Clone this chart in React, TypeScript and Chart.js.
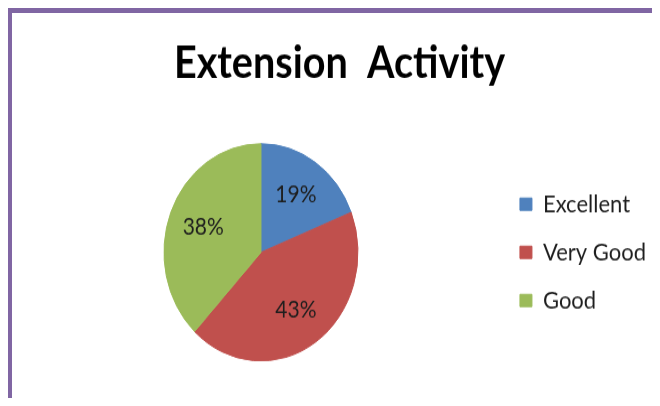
import React, { useEffect, useRef } from "react";
import { Chart, registerables } from "chart.js";

Chart.register(...registerables);

const titleText = "Extension  Activity";
const categories = ["Excellent", "Very Good", "Good"];
const percentages = [19, 43, 38];
const sliceColors = ["#4F81BD", "#C0504D", "#9BBB59"];

const FONT = "Lato, 'Open Sans', 'DejaVu Sans', sans-serif";

const percentLabels = {
  id: "percentLabels",
  afterDatasetsDraw(chart: any) {
    const ctx = chart.ctx;
    const meta = chart.getDatasetMeta(0);
    ctx.save();
    ctx.font = `21px ${FONT}`;
    ctx.fillStyle = "#1e1e1e";
    ctx.textAlign = "center";
    ctx.textBaseline = "middle";
    meta.data.forEach((arc: any, i: number) => {
      const { x, y, startAngle, endAngle, outerRadius } = arc.getProps(
        ["x", "y", "startAngle", "endAngle", "outerRadius"],
        true
      );
      const mid = (startAngle + endAngle) / 2;
      const r = outerRadius * 0.64;
      ctx.fillText(
        `${percentages[i]}%`,
        x + Math.cos(mid) * r,
        y + Math.sin(mid) * r
      );
    });
    ctx.restore();
  },
};

export default function App() {
  const ref = useRef<HTMLCanvasElement>(null);
  useEffect(() => {
    document.body.style.overflow = "hidden";
    document.documentElement.style.overflow = "hidden";
    const chart = new Chart(ref.current!, {
      type: "pie",
      data: {
        labels: categories,
        datasets: [
          {
            data: percentages,
            backgroundColor: sliceColors,
            borderColor: sliceColors,
            borderWidth: 1,
          },
        ],
      },
      options: {
        responsive: false,
        animation: false,
        radius: 97,
        layout: { padding: { top: 0, left: 11, right: 4, bottom: 2 } },
        plugins: {
          title: {
            display: true,
            text: titleText,
            color: "#000",
            font: { family: FONT, size: 39.6, weight: "bold" },
            padding: { top: 21, bottom: 10 },
          },
          legend: {
            position: "right",
            fullSize: false,
            labels: {
              boxWidth: 12,
              boxHeight: 11,
              padding: 21,
              color: "#1e1e1e",
              font: { family: FONT, size: 22 },
            },
          },
          tooltip: { enabled: false },
        },
      } as any,
      plugins: [percentLabels],
    });
    return () => chart.destroy();
  }, []);
  return (
    <div
      style={{
        width: 652,
        height: 390,
        boxSizing: "border-box",
        borderTop: "5px solid #8066A3",
        borderLeft: "4px solid #8066A3",
        overflow: "hidden",
        background: "#fff",
      }}
    >
      <canvas
        ref={ref}
        width={648}
        height={351}
        style={{ display: "block", width: 648, height: 393 }}
      />
    </div>
  );
}
